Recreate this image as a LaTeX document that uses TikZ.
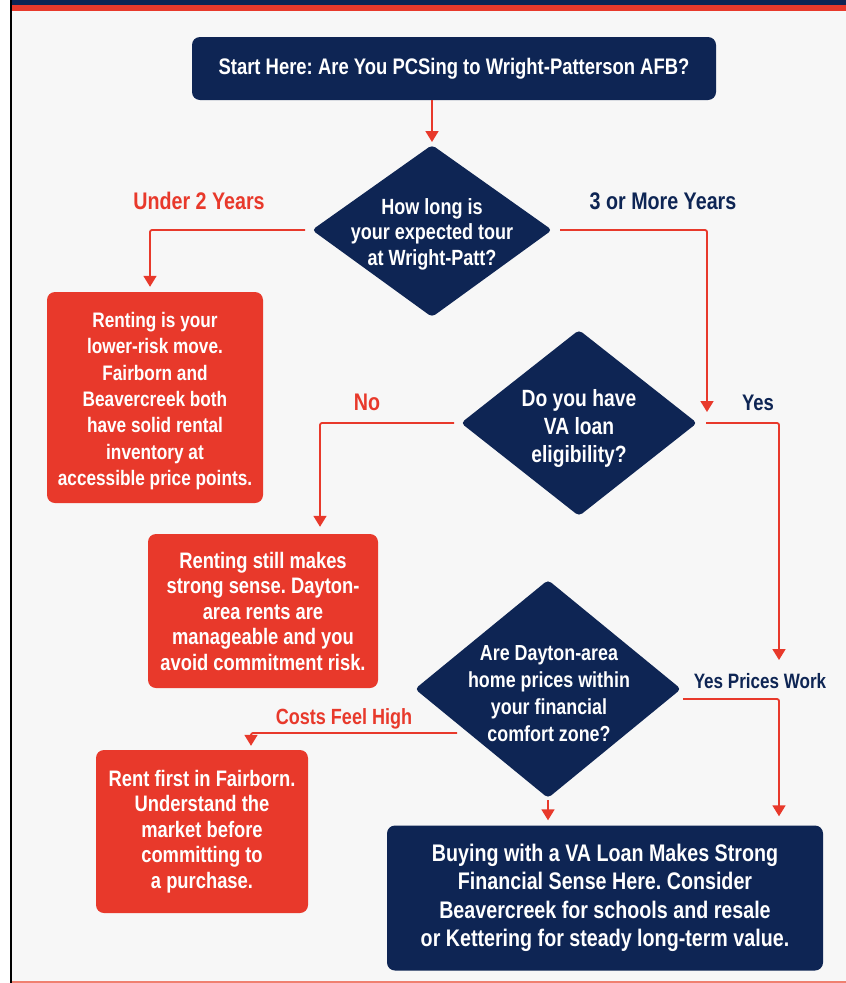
\documentclass[tikz,border=0pt]{standalone}
\usepackage{fontspec}
\setmainfont{Liberation Sans}[FakeStretch=0.82]
\usetikzlibrary{arrows.meta,shapes.geometric}
\definecolor{navy}{HTML}{0E2554}
\definecolor{flred}{HTML}{E8392B}
\definecolor{bg}{HTML}{F7F7F7}
\definecolor{salmon}{HTML}{F08070}
\frenchspacing
\begin{document}
\begin{tikzpicture}[x=1pt,y=-1pt,
  navybox/.style={fill=navy,rounded corners=8pt,text=white,font=\bfseries\fontsize{22.5}{26}\selectfont,align=center,inner sep=0pt},
  redbox/.style={fill=flred,rounded corners=8pt,text=white,font=\bfseries\fontsize{22.4}{25.5}\selectfont,align=center,inner sep=0pt},
  dtext/.style={text=white,align=center,inner sep=0pt},
  flow/.style={draw=flred,line width=1.8pt,-{Triangle[length=11pt,width=13pt]},rounded corners=2pt},
  redlab/.style={text=flred,font=\bfseries\fontsize{24}{28}\selectfont},
  navylab/.style={text=navy,font=\bfseries\fontsize{24}{28}\selectfont}]
\useasboundingbox (0,0) rectangle (846,983);
\fill[white] (0,0) rectangle (846,983);
\fill[bg] (12,0) rectangle (846,981);
\fill[navy] (12,0) rectangle (846,4.5);
\fill[flred] (12,4.5) rectangle (846,11);
\fill[black] (10,0) rectangle (12,983);
\fill[salmon] (12,981) rectangle (846,983);

% nodes
\node[navybox,minimum width=524pt,minimum height=63pt] (start) at (454,68.5) {Start Here: Are You PCSing to Wright-Patterson AFB?};

\fill[navy,rounded corners=4pt] (432,145) -- (552,230) -- (432,317) -- (312,230) -- cycle;
\coordinate (d1t) at (432,145); \coordinate (d1l) at (312,230); \coordinate (d1r) at (552,230);
\node[dtext,font=\bfseries\fontsize{22}{25.5}\selectfont] (d1) at (432,234) {How long is\\your expected tour\\at Wright-Patt?};

\fill[navy,rounded corners=4pt] (579,330) -- (697,423) -- (579,516) -- (461,423) -- cycle;
\coordinate (d2l) at (461,423); \coordinate (d2r) at (697,423);
\node[dtext,font=\bfseries\fontsize{23.5}{28}\selectfont] (d2) at (579,428) {Do you have\\VA loan\\eligibility?};

\fill[navy,rounded corners=4pt] (548,580) -- (681,689) -- (548,798) -- (415,689) -- cycle;
\coordinate (d3b) at (548,798); \coordinate (d3r) at (681,699); \coordinate (d3l) at (457,733);
\node[dtext,font=\bfseries\fontsize{21.8}{27}\selectfont] (d3) at (549,694) {Are Dayton-area\\home prices within\\your financial\\comfort zone?};

\node[redbox,minimum width=216pt,minimum height=211pt,text depth=0pt] (r1) at (155,397.5) {};
\node[text=white,align=center,inner sep=0pt,font=\bfseries\fontsize{21}{26.3}\selectfont] (r1t) at (155,401) {Renting is your\\lower-risk move.\\Fairborn and\\Beavercreek both\\have solid rental\\inventory at\\accessible price points.};

\node[redbox,minimum width=230pt,minimum height=154pt] (r2) at (263,611) {Renting still makes\\strong sense. Dayton-\\area rents are\\manageable and you\\avoid commitment risk.};

\node[redbox,minimum width=212pt,minimum height=163pt] (r3) at (202,831.5) {Rent first in Fairborn.\\Understand the\\market before\\committing to\\a purchase.};

\node[navybox,minimum width=436pt,minimum height=145pt,font=\bfseries\fontsize{24}{28.5}\selectfont] (buy) at (605,898) {Buying with a VA Loan Makes Strong\\Financial Sense Here. Consider\\Beavercreek for schools and resale\\or Kettering for steady long-term value.};

% labels
\node[redlab] (l1) at (199,201) {Under 2 Years};
\node[navylab] (l2) at (663,201) {3 or More Years};
\node[redlab] (l3) at (367,402) {No};
\node[navylab,font=\bfseries\fontsize{22.5}{26}\selectfont] (l4) at (758,403) {Yes};
\node[navylab,font=\bfseries\fontsize{20.8}{24}\selectfont] (l5) at (760,681) {Yes Prices Work};
\node[redlab,font=\bfseries\fontsize{22}{26}\selectfont] (l6) at (344,719) {Costs Feel High};

% connectors
\draw[flow] (start.south -| d1t) -- ([yshift=3pt]d1t);
\draw[flow] ([xshift=-7pt]d1l) -| ([yshift=5pt]r1.north -| 150,0);
\draw[flow] ([xshift=8pt]d1r) -| (707,412);
\draw[flow] ([xshift=-7pt]d2l) -| ([yshift=7pt]r2.north -| 320,0);
\draw[flow] ([xshift=9pt]d2r) -| (779,660);
\draw[flow] (d3l) -| ([yshift=4pt]r3.north -| 251,0);
\draw[flow] ([yshift=-2pt]d3b) -- ([yshift=5pt]buy.north -| d3b);
\draw[flow] ([xshift=2pt]d3r) -| ([yshift=9pt]buy.north -| 779,0);
\end{tikzpicture}
\end{document}
